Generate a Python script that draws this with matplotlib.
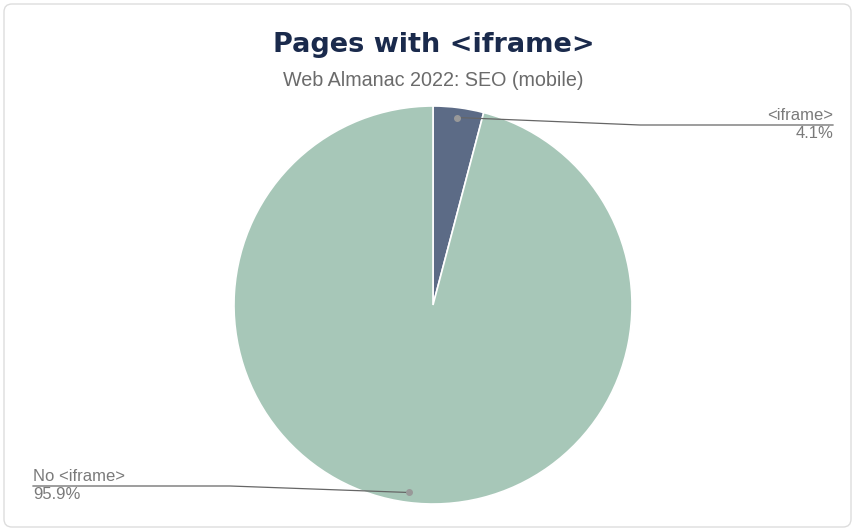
#!/usr/bin/env python3
"""Pie chart: pages with <iframe> (Web Almanac 2022, SEO, mobile)."""

import matplotlib
matplotlib.use('Agg')
import matplotlib.pyplot as plt
import matplotlib.patches as mpatches
import numpy as np

plt.rcParams['font.family'] = ['Liberation Sans', 'DejaVu Sans']

labels = ['<iframe>', 'No <iframe>']
values = [4.1, 95.9]
colors = ['#5c6b86', '#a7c7b8']

W, H = 855, 531
CX, CY, R = 433, H - 305, 199

fig = plt.figure(figsize=(W / 100, H / 100), dpi=100)
ax = fig.add_axes([0, 0, 1, 1])

# rounded card border
card = mpatches.FancyBboxPatch((4, 4), W - 8, H - 8,
                               boxstyle='round,pad=0,rounding_size=8',
                               facecolor='white', edgecolor='#dddddd',
                               linewidth=1.0, zorder=0)
ax.add_patch(card)

wedges, _ = ax.pie(values, colors=colors, startangle=90, counterclock=False,
                   center=(CX, CY), radius=R,
                   wedgeprops=dict(edgecolor='white', linewidth=1.2))
for w in wedges:
    w.set_zorder(2)

ax.set_xlim(0, W)
ax.set_ylim(0, H)
ax.set_aspect('equal')
ax.axis('off')

# leader lines + labels
label_color = '#7a7a7a'
line_color = '#666666'
for i, w in enumerate(wedges):
    mid = np.deg2rad((w.theta1 + w.theta2) / 2)
    px = CX + 0.95 * R * np.cos(mid)
    py = CY + 0.95 * R * np.sin(mid)
    if np.cos(mid) >= 0:
        ly = H - 125
        kx, ex = 640, 833
        ha, tx = 'right', ex
    else:
        ly = H - 486
        kx, ex = 230, 33
        ha, tx = 'left', ex
    ax.plot([px, kx, ex], [py, ly, ly], color=line_color, lw=0.9, zorder=3)
    ax.plot(px, py, 'o', color='#999999', markersize=4, zorder=4)
    ax.text(tx, ly + 2, labels[i], ha=ha, va='bottom', fontsize=12,
            color=label_color, zorder=4)
    ax.text(tx, ly - 1, f'{values[i]}%', ha=ha, va='top', fontsize=12,
            color=label_color, zorder=4)

ax.text(W / 2 + 6, H - 45, 'Pages with <iframe>', ha='center', va='center',
        fontsize=19.5, fontweight='bold', family='DejaVu Sans', color='#1a2a4c')
ax.text(W / 2 + 6, H - 80, 'Web Almanac 2022: SEO (mobile)', ha='center',
        va='center', fontsize=14.2, color='#6b6b6b')

fig.savefig('out.png', dpi=100, facecolor='white')
